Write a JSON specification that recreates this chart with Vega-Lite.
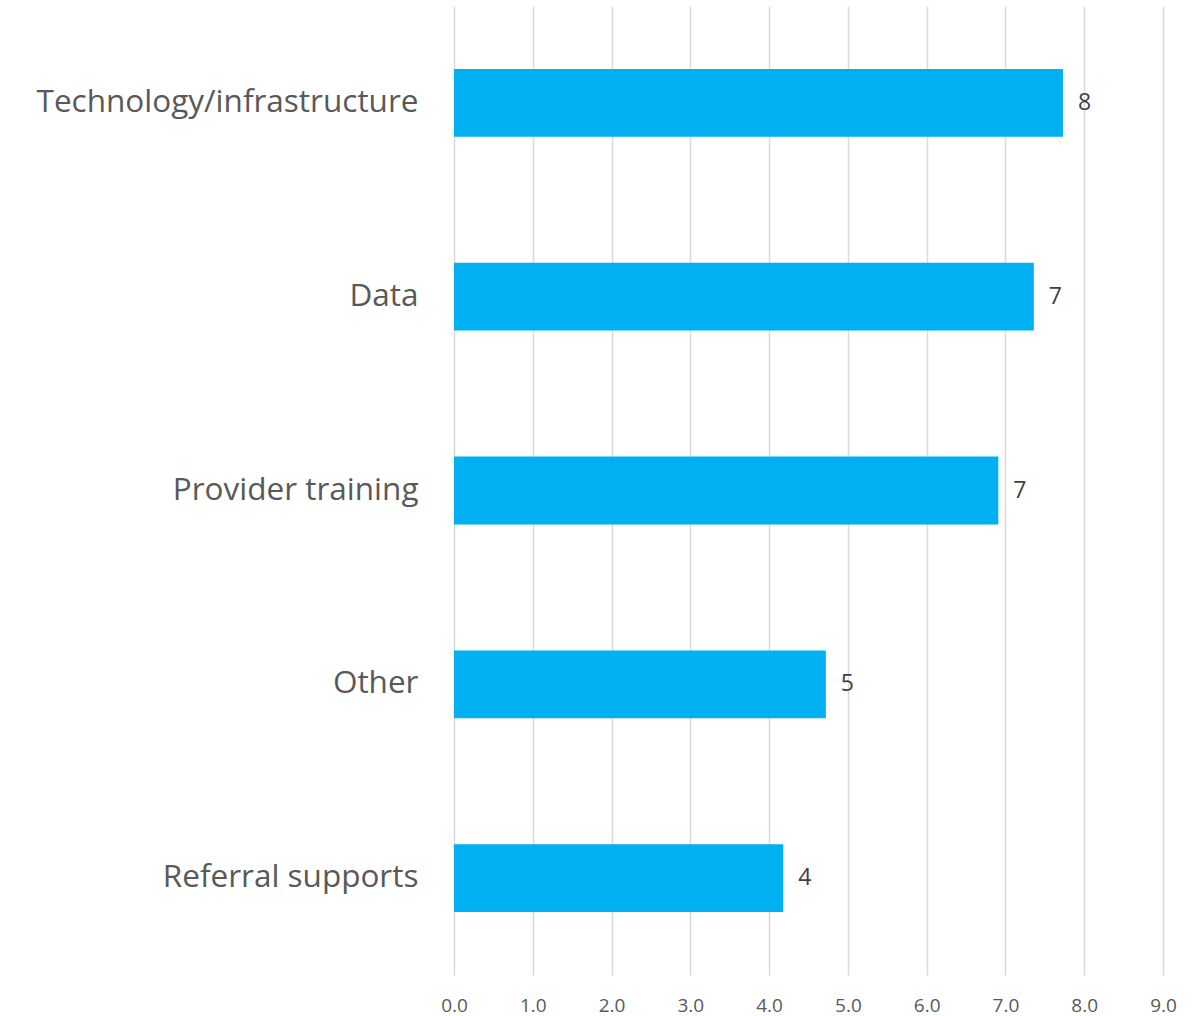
{
  "$schema": "https://vega.github.io/schema/vega-lite/v6.json",
  "width": 709,
  "height": 969,
  "autosize": {"type": "none"},
  "padding": {"left": 454, "top": 6, "right": 39, "bottom": 41},
  "background": "white",
  "config": {"view": {"stroke": null}, "font": "Open Sans"},
  "data": {"values": [
    {"category": "Technology/infrastructure", "value": 7.73},
    {"category": "Data", "value": 7.36},
    {"category": "Provider training", "value": 6.91},
    {"category": "Other", "value": 4.72},
    {"category": "Referral supports", "value": 4.18}
  ]},
  "encoding": {
    "y": {"field": "category", "type": "nominal", "sort": null,
      "scale": {"paddingInner": 0.65, "paddingOuter": 0.325},
      "axis": {"title": null, "domain": false, "ticks": false, "labelPadding": 36, "labelFontSize": 31.5, "labelColor": "#595959", "labelLimit": 0, "labelFont": "Open Sans"}},
    "x": {"field": "value", "type": "quantitative",
      "scale": {"domain": [0, 9], "nice": false},
      "axis": {"title": null, "domain": false, "ticks": false, "values": [0,1,2,3,4,5,6,7,8,9], "format": ".1f", "grid": true, "gridColor": "#d9d9d9", "gridWidth": 1.5, "labelFlush": false, "labelFontSize": 19, "labelColor": "#595959", "labelPadding": 21, "labelFont": "Open Sans"}}
  },
  "layer": [
    {"mark": {"type": "bar", "color": "#00b0f0"}},
    {"mark": {"type": "text", "align": "left", "dx": 15, "fontSize": 23, "color": "#404040", "font": "Open Sans"},
     "encoding": {"text": {"field": "value", "type": "quantitative", "format": ".0f"}}}
  ]
}
